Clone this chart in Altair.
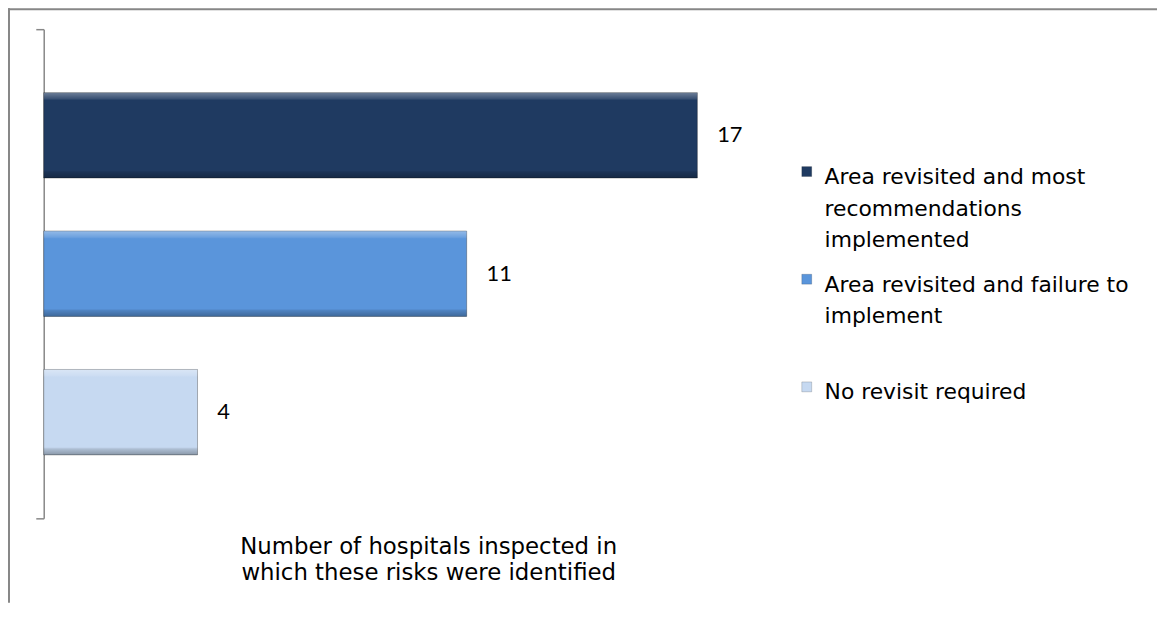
import json
import altair as alt
import pandas as pd

# ---- data ----
category = "Number of hospitals inspected in which these risks were identified"
series = [
    "Area revisited and most recommendations implemented",
    "Area revisited and failure to implement",
    "No revisit required",
]
values = [17, 11, 4]
colors = ["#1F3A61", "#5A95DB", "#C6D9F1"]
legend_lines = [
    ["Area revisited and most", "recommendations", "implemented"],
    ["Area revisited and failure to", "implement", ""],
    ["No revisit required", "", ""],
]
title_lines = ["Number of hospitals inspected in", "which these risks were identified"]

df = pd.DataFrame({"cat": [category] * len(series), "series": series, "value": values})

# legend label expression (multi-line labels)
expr = json.dumps(legend_lines[-1])
for name, lines in reversed(list(zip(series[:-1], legend_lines[:-1]))):
    expr = f"datum.label == {json.dumps(name)} ? {json.dumps(lines)} : ({expr})"

GRAY = "#878787"

x_enc = alt.X(
    "value:Q",
    scale=alt.Scale(domain=[0, 20], nice=False),
    axis=alt.Axis(
        domain=False, ticks=False, labels=False, grid=False,
        title=title_lines, titleFont="DejaVu Sans", titleFontSize=23,
        titleFontWeight="normal", titleColor="#000000",
        titlePadding=17, titleLineHeight=27,
    ),
)
y_enc = alt.Y(
    "cat:N",
    scale=alt.Scale(paddingInner=0, paddingOuter=0),
    axis=alt.Axis(
        labels=False, title=None, grid=False, tickBand="extent",
        domainColor=GRAY, tickColor=GRAY, domainWidth=1.5, tickWidth=1.5,
        tickSize=8,
    ),
)
yoff_enc = alt.YOffset(
    "series:N", sort=series,
    scale=alt.Scale(paddingInner=0.383, paddingOuter=0.4585),
)

base = alt.Chart(df).encode(x=x_enc, y=y_enc, yOffset=yoff_enc)

bars = base.mark_bar(stroke="#000000", strokeOpacity=0.3, strokeWidth=1).encode(
    color=alt.Color(
        "series:N", sort=series,
        scale=alt.Scale(domain=series, range=colors),
        legend=alt.Legend(
            title=None, orient="none", legendX=758, legendY=128,
            symbolType="M-1,-0.1H1V1.9H-1Z", symbolSize=100,
            symbolStrokeColor="#00000055", symbolStrokeWidth=0.5,
            labelFont="DejaVu Sans", labelFontSize=22, labelColor="#000000",
            labelLimit=0, labelBaseline="top", labelOffset=7,
            rowPadding=12.5, padding=0, labelExpr=expr,
        ),
    )
)

bevel = base.mark_bar(
    color=alt.Gradient(
        gradient="linear", x1=0, x2=0, y1=0, y2=1,
        stops=[
            alt.GradientStop(color="rgba(255,255,255,0.35)", offset=0),
            alt.GradientStop(color="rgba(255,255,255,0.12)", offset=0.07),
            alt.GradientStop(color="rgba(255,255,255,0)", offset=0.09),
            alt.GradientStop(color="rgba(0,0,0,0)", offset=0.91),
            alt.GradientStop(color="rgba(0,0,0,0.12)", offset=0.93),
            alt.GradientStop(color="rgba(0,0,0,0.3)", offset=1),
        ],
    )
)

labels = base.mark_text(
    align="left", baseline="middle", dx=20, font="Lato", fontSize=22, color="#000000"
).encode(text="value:Q")

frame_df = pd.DataFrame({"k": [0]})
frame_top = alt.Chart(frame_df).mark_rule(color=GRAY, strokeWidth=2).encode(
    x=alt.value(-36), x2=alt.value(1122), y=alt.value(-20)
)
frame_left = alt.Chart(frame_df).mark_rule(color=GRAY, strokeWidth=2).encode(
    x=alt.value(-35), y=alt.value(-21), y2=alt.value(578)
)

chart = (
    alt.layer(frame_top, frame_left, bars, bevel, labels)
    .properties(
        width=775, height=493, background="white",
        padding={"left": -1, "top": -3, "right": 0, "bottom": 0},
    )
    .configure(
        style={"guide-label": {"lineHeight": 32}},
        view=alt.ViewConfig(stroke="transparent", strokeWidth=0),
    )
)

chart.save("out.html", embed_options={"renderer": "svg", "actions": False})
